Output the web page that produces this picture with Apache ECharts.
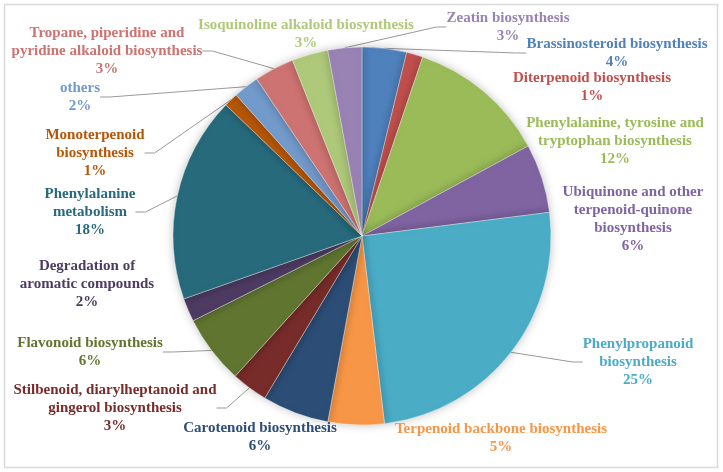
<!DOCTYPE html>
<html>
<head>
<meta charset="utf-8">
<script src="https://cdn.jsdelivr.net/npm/echarts@6/dist/echarts.min.js"></script>
<style>
  html, body { margin: 0; padding: 0; background: #fff; }
  #chart { width: 723px; height: 472px; }
</style>
</head>
<body>
<div id="chart"></div>
<script>
// 分类（顺时针，从12点方向开始）
const categories = [
  'Brassinosteroid biosynthesis',
  'Diterpenoid biosynthesis',
  'Phenylalanine, tyrosine and\ntryptophan biosynthesis',
  'Ubiquinone and other\nterpenoid-quinone\nbiosynthesis',
  'Phenylpropanoid\nbiosynthesis',
  'Terpenoid backbone biosynthesis',
  'Carotenoid biosynthesis',
  'Stilbenoid, diarylheptanoid and\ngingerol biosynthesis',
  'Flavonoid biosynthesis',
  'Degradation of\naromatic compounds',
  'Phenylalanine\nmetabolism',
  'Monoterpenoid\nbiosynthesis',
  'others',
  'Tropane, piperidine and\npyridine alkaloid biosynthesis',
  'Isoquinoline alkaloid biosynthesis',
  'Zeatin biosynthesis'
]

// 占比（%）
const values = [3.8, 1.4, 11.9, 5.9, 25.1, 4.8, 5.7, 3.1, 5.9, 2.0, 17.6, 1.2, 2.2, 3.4, 3.1, 2.9]

const colors = [
  '#4f81bd', '#c0504d', '#9bbb59', '#8064a2', '#4bacc6', '#f79646',
  '#2c4d75', '#772c2a', '#5f7530', '#4d3b62', '#276a7c', '#b65708',
  '#729aca', '#cd7371', '#afc97a', '#9983b5'
]

// 标签位置（文字块中心）
const labelPos = [
  [617, 53], [592, 87], [615, 141], [633, 219], [638, 362], [501, 438],
  [260, 437], [115, 408], [90, 352], [87, 284], [90, 212], [95, 153],
  [80, 97], [107, 51], [306, 34], [508, 27]
]
const showLine = [true, false, false, false, true, false, false, true, true, false, true, true, true, true, false, true]

const total = values.reduce((a, b) => a + b, 0)

const chart = echarts.init(document.getElementById('chart'))
chart.setOption({
  animation: false,
  color: colors,
  graphic: [{
    type: 'rect',
    shape: { x: 4.5, y: 4.5, width: 713, height: 463 },
    style: { fill: 'none', stroke: '#d9d9d9', lineWidth: 1.5 },
    silent: true
  }],
  series: [{
    type: 'pie',
    center: [362, 236],
    radius: 189,
    startAngle: 90,
    clockwise: true,
    avoidLabelOverlap: false,
    itemStyle: {
      borderColor: 'rgba(255,255,255,0.6)',
      borderWidth: 0.6,
      shadowBlur: 10,
      shadowColor: 'rgba(0,0,0,0.25)'
    },
    label: {
      show: true,
      position: 'outside',
      fontFamily: 'Liberation Serif',
      fontWeight: 'bold',
      fontSize: 15,
      lineHeight: 18,
      align: 'center',
      formatter: (p) => p.name + '\n' + Math.round(p.value / total * 100) + '%'
    },
    labelLine: {
      show: true,
      length: 10,
      length2: 10,
      lineStyle: { color: '#999999', width: 1 }
    },
    labelLayout: (params) => {
      const pos = labelPos[params.dataIndex]
      return { x: pos[0], y: pos[1], align: 'center', verticalAlign: 'middle' }
    },
    data: categories.map((name, i) => ({
      name: name,
      value: values[i],
      label: { color: colors[i] },
      labelLine: { show: showLine[i] }
    }))
  }]
})
</script>
</body>
</html>
